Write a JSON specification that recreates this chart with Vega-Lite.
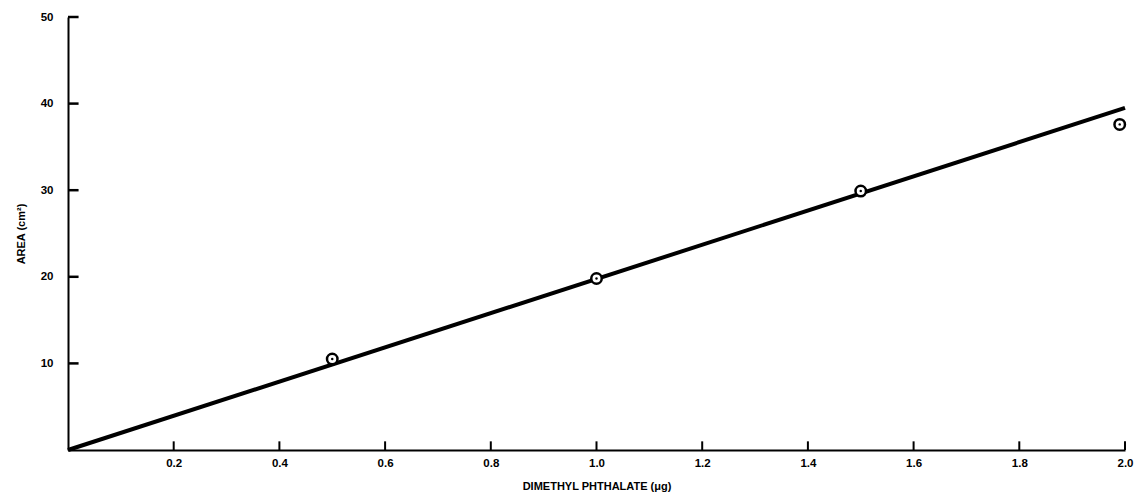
{
  "$schema": "https://vega.github.io/schema/vega-lite/v6.json",
  "width": 1057,
  "height": 433,
  "autosize": {"type": "none"},
  "padding": {"left": 68, "top": 17, "right": 10, "bottom": 47},
  "background": "white",
  "config": {
    "view": {"stroke": null},
    "font": "Liberation Sans",
    "axis": {
      "grid": false,
      "domainColor": "black",
      "domainWidth": 2,
      "ticks": false,
      "labelFont": "Liberation Sans",
      "labelFontWeight": "bold",
      "labelFontSize": 11.5,
      "labelColor": "black",
      "titleFont": "Liberation Sans",
      "titleFontWeight": "bold",
      "titleFontSize": 11,
      "titleColor": "black"
    }
  },
  "datasets": {
    "fit": [
      {"dose": 0, "area": 0},
      {"dose": 2.0, "area": 39.5}
    ],
    "points": [
      {"dose": 0.5, "area": 10.5},
      {"dose": 1.0, "area": 19.8},
      {"dose": 1.5, "area": 29.9},
      {"dose": 1.99, "area": 37.6}
    ],
    "yticks": [
      {"dose": 0, "dose2": 0.02, "area": 10},
      {"dose": 0, "dose2": 0.02, "area": 20},
      {"dose": 0, "dose2": 0.02, "area": 30},
      {"dose": 0, "dose2": 0.02, "area": 40},
      {"dose": 0, "dose2": 0.02, "area": 50}
    ],
    "xticks": [
      {"dose": 0.2, "area": 0, "area2": 1.0},
      {"dose": 0.4, "area": 0, "area2": 1.0},
      {"dose": 0.6, "area": 0, "area2": 1.0},
      {"dose": 0.8, "area": 0, "area2": 1.0},
      {"dose": 1.0, "area": 0, "area2": 1.0},
      {"dose": 1.2, "area": 0, "area2": 1.0},
      {"dose": 1.4, "area": 0, "area2": 1.0},
      {"dose": 1.6, "area": 0, "area2": 1.0},
      {"dose": 1.8, "area": 0, "area2": 1.0},
      {"dose": 2.0, "area": 0, "area2": 1.0}
    ]
  },
  "encoding": {
    "x": {
      "field": "dose", "type": "quantitative",
      "scale": {"domain": [0, 2.0], "nice": false, "zero": false},
      "axis": {
        "title": "DIMETHYL PHTHALATE (μg)",
        "values": [0.2, 0.4, 0.6, 0.8, 1.0, 1.2, 1.4, 1.6, 1.8, 2.0],
        "format": ".1f",
        "labelPadding": 7,
        "titlePadding": 12,
        "labelFlush": false
      }
    },
    "y": {
      "field": "area", "type": "quantitative",
      "scale": {"domain": [0, 50], "nice": false},
      "axis": {
        "title": "AREA (cm²)",
        "values": [10, 20, 30, 40, 50],
        "labelPadding": 15,
        "titlePadding": 14,
        "labelFlush": false
      }
    }
  },
  "layer": [
    {
      "data": {"name": "yticks"},
      "mark": {"type": "rule", "color": "#000000", "strokeWidth": 2.5, "opacity": 1},
      "encoding": {
        "x2": {"field": "dose2"}
      }
    },
    {
      "data": {"name": "xticks"},
      "mark": {"type": "rule", "color": "#000000", "strokeWidth": 2, "opacity": 1},
      "encoding": {
        "y2": {"field": "area2"}
      }
    },
    {
      "data": {"name": "fit"},
      "mark": {"type": "line", "color": "black", "strokeWidth": 4, "clip": false}
    },
    {
      "data": {"name": "points"},
      "mark": {"type": "point", "shape": "circle", "filled": true, "color": "white", "opacity": 1, "stroke": "black", "strokeWidth": 2.5, "size": 110}
    },
    {
      "data": {"name": "points"},
      "mark": {"type": "point", "shape": "circle", "filled": true, "color": "black", "opacity": 1, "size": 6}
    }
  ]
}
